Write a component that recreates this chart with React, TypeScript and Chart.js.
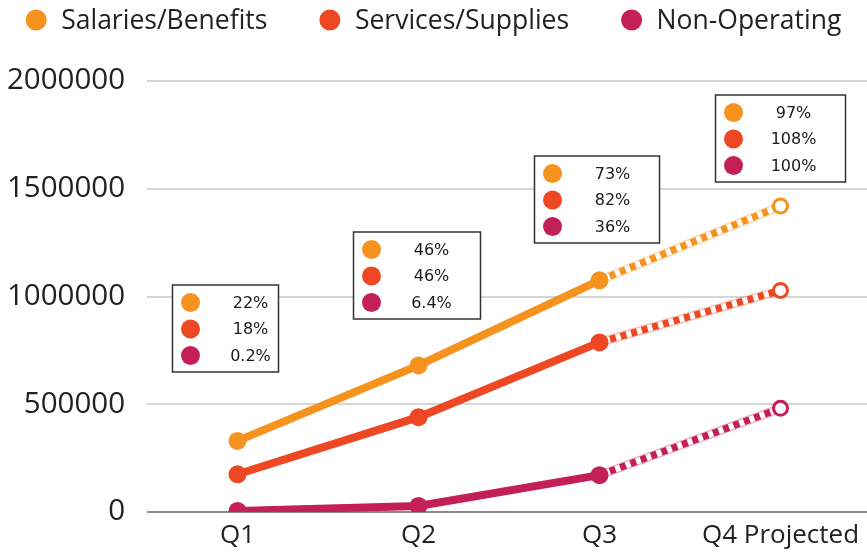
import React, { useEffect, useRef } from "react";
import { Chart, registerables } from "chart.js";

Chart.register(...registerables);

// ---------- data ----------
const categories = ["Q1", "Q2", "Q3", "Q4 Projected"];
const seriesNames = ["Salaries/Benefits", "Services/Supplies", "Non-Operating"];
const salaries = [330000, 680000, 1075000, 1420000];
const services = [175000, 440000, 787000, 1028000];
const nonOperating = [5000, 28000, 171000, 481000];
const salariesPct = ["22%", "46%", "73%", "97%"];
const servicesPct = ["18%", "46%", "82%", "108%"];
const nonOperatingPct = ["0.2%", "6.4%", "36%", "100%"];
const yMin = 0;
const yMax = 2000000;
const yStep = 500000;
const projectedIndex = 3; // first projected category

// ---------- styles ----------
const COLORS = ["#F6931E", "#EE4723", "#C42058"];
const PALE = ["rgba(246,147,30,0.35)", "rgba(238,71,35,0.35)", "rgba(196,32,88,0.35)"];
const CANVAS_W = 871;
const CANVAS_H = 556;
const BOX_LEFT_OFFSET = -65;
const BOX_WIDTHS = [106, 127, 125, 130];
const BOX_TOPS = [285, 232, 156, 95];
const BOX_H = 87;

const allSeries = [salaries, services, nonOperating];
const allPct = [salariesPct, servicesPct, nonOperatingPct];

const projBackdrop = {
  id: "projBackdrop",
  beforeDatasetDraw(chart: any, args: any) {
    const ds = chart.data.datasets[args.index];
    if (!ds._pale) return;
    const pts = args.meta.data.filter((_: any, k: number) => ds.data[k] != null);
    if (pts.length < 2) return;
    const ctx = chart.ctx;
    ctx.save();
    const stroke = (color: string, w: number) => {
      ctx.beginPath();
      ctx.moveTo(pts[0].x, pts[0].y);
      for (let k = 1; k < pts.length; k++) ctx.lineTo(pts[k].x, pts[k].y);
      ctx.strokeStyle = color;
      ctx.lineWidth = w;
      ctx.lineCap = "butt";
      ctx.stroke();
    };
    stroke(ds._pale, 9);
    stroke("#ffffff", 6);
    ctx.restore();
  },
};

const pctBoxes = {
  id: "pctBoxes",
  afterDatasetsDraw(chart: any) {
    const ctx = chart.ctx;
    const xs = chart.scales.x;
    categories.forEach((_, i) => {
      const cx = xs.getPixelForValue(i);
      const left = cx + BOX_LEFT_OFFSET;
      const w = BOX_WIDTHS[i];
      const top = BOX_TOPS[i];
      ctx.save();
      ctx.fillStyle = "#ffffff";
      ctx.fillRect(left, top, w, BOX_H);
      ctx.strokeStyle = "#333333";
      ctx.lineWidth = 1.5;
      ctx.strokeRect(left, top, w, BOX_H);
      allPct.forEach((arr, r) => {
        const y = top + 17.5 + r * 26.5;
        ctx.beginPath();
        ctx.arc(left + 18, y, 9.5, 0, Math.PI * 2);
        ctx.fillStyle = COLORS[r];
        ctx.fill();
        ctx.fillStyle = "#1a1a1a";
        ctx.font = '16px "DejaVu Sans"';
        ctx.textAlign = "center";
        ctx.textBaseline = "middle";
        ctx.fillText(arr[i], left + 78, y + 1);
      });
      ctx.restore();
    });
  },
};

const customLegend = {
  id: "customLegend",
  afterDraw(chart: any) {
    const ctx = chart.ctx;
    ctx.save();
    ctx.font = '26.5px "Open Sans"';
    const R = 10.5;
    const textGap = 25; // from circle centre to text start
    const spacing = 52;
    const items = seriesNames.map((n, i) => ({ n, c: COLORS[i], w: ctx.measureText(n).width }));
    const widths = items.map((it) => R + textGap + it.w);
    const total = widths.reduce((a, b) => a + b, 0) + spacing * (items.length - 1);
    let x = 433.5 - total / 2;
    const y = 20;
    items.forEach((it, i) => {
      ctx.beginPath();
      ctx.arc(x + R, y, R, 0, Math.PI * 2);
      ctx.fillStyle = it.c;
      ctx.fill();
      ctx.fillStyle = "#222222";
      ctx.textAlign = "left";
      ctx.textBaseline = "middle";
      ctx.fillText(it.n, x + R + textGap, y + 1);
      x += widths[i] + spacing;
    });
    ctx.restore();
  },
};

export default function App() {
  const ref = useRef<HTMLCanvasElement | null>(null);

  useEffect(() => {
    if (!ref.current) return;
    const mainSets = allSeries.map((data, i) => ({
      label: seriesNames[i],
      data,
      borderColor: COLORS[i],
      backgroundColor: COLORS[i],
      borderWidth: 8,
      tension: 0,
      segment: {
        borderColor: (c: any) => (c.p1DataIndex >= projectedIndex ? "rgba(0,0,0,0)" : undefined),
      },
      pointStyle: "circle",
      pointRadius: data.map((_, k) => (k >= projectedIndex ? 7 : 9)),
      pointHoverRadius: data.map((_, k) => (k >= projectedIndex ? 7 : 9)),
      pointBackgroundColor: data.map((_, k) => (k >= projectedIndex ? "#ffffff" : COLORS[i])),
      pointBorderColor: COLORS[i],
      pointBorderWidth: data.map((_, k) => (k >= projectedIndex ? 3 : 0)),
      order: 0,
    }));
    const projSets = allSeries.map((data, i) => ({
      label: "proj-" + seriesNames[i],
      data: data.map((v, k) => (k >= projectedIndex - 1 ? v : null)),
      borderColor: COLORS[i],
      borderWidth: 7,
      borderDash: [6, 5],
      borderCapStyle: "butt",
      pointRadius: 0,
      pointHoverRadius: 0,
      order: 1,
      _pale: PALE[i],
    }));

    const chart = new Chart(ref.current, {
      type: "line",
      data: { labels: categories, datasets: [...mainSets, ...projSets] as any },
      options: {
        responsive: false,
        animation: false,
        events: [],
        layout: { autoPadding: false, padding: { top: 81, left: 0, right: 0, bottom: 0 } },
        plugins: {
          legend: { display: false },
          tooltip: { enabled: false },
        },
        scales: {
          x: {
            type: "category",
            offset: true,
            grid: { display: false, drawTicks: false },
            border: { display: false },
            ticks: {
              font: { family: "Open Sans", size: 26 },
              color: "#222222",
              padding: 8,
              maxRotation: 0,
            },
            afterFit: (s: any) => {
              s.height = 44;
              s.paddingLeft = 0;
              s.paddingRight = 0;
            },
          },
          y: {
            min: yMin,
            max: yMax,
            ticks: {
              stepSize: yStep,
              font: { family: "Open Sans", size: 29.5 },
              color: "#222222",
              padding: 22,
              callback: (v: any) => String(v),
            },
            grid: {
              drawTicks: false,
              lineWidth: 2,
              color: (c: any) => (c.tick && c.tick.value === 0 ? "#8c8c8c" : "#d6d6d6"),
            },
            border: { display: false },
            afterFit: (s: any) => {
              s.width = 147;
            },
          },
        },
      } as any,
      plugins: [projBackdrop, pctBoxes, customLegend],
    });
    return () => chart.destroy();
  }, []);

  return (
    <div style={{ position: "fixed", left: 0, top: 0, width: CANVAS_W, height: CANVAS_H }}>
      <canvas
        ref={ref}
        width={CANVAS_W}
        height={CANVAS_H}
        style={{ display: "block", width: CANVAS_W, height: CANVAS_H }}
      />
    </div>
  );
}
